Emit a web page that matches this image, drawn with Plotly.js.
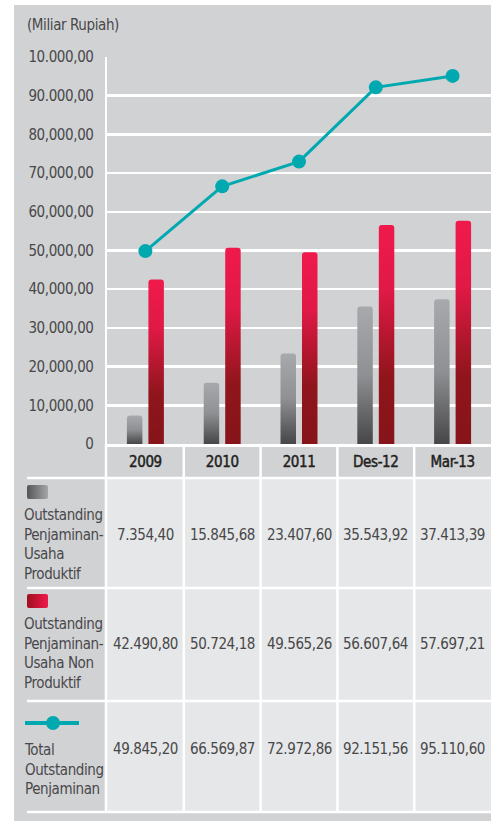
<!DOCTYPE html>
<html><head><meta charset="utf-8">
<script src="https://cdn.plot.ly/plotly-3.0.1.min.js"></script>
<style>
html,body{margin:0;padding:0;background:#fff;}
#chart{width:491px;height:821px;}
text{font-stretch:condensed;letter-spacing:-0.4px;}
.xtick text{stroke:#231f20;stroke-width:0.45px;}
</style>
</head><body><div id="chart"></div>
<script>
// ---- data ----
const categories = ['2009', '2010', '2011', 'Des-12', 'Mar-13'];
const produktif = [7354.40, 15845.68, 23407.60, 35543.92, 37413.39];
const nonProduktif = [42490.80, 50724.18, 49565.26, 56607.64, 57697.21];
const total = [49845.20, 66569.87, 72972.86, 92151.56, 95110.60];
const yTickVals = [0, 10000, 20000, 30000, 40000, 50000, 60000, 70000, 80000, 90000, 100000];
const yTickText = ['0', '10,000,00', '20,000,00', '30,000,00', '40,000,00', '50,000,00', '60,000,00', '70,000,00', '80,000,00', '90.000,00', '10.000,00'];
const seriesNames = ['Outstanding Penjaminan-Usaha Produktif', 'Outstanding Penjaminan-Usaha Non Produktif', 'Total Outstanding Penjaminan'];
const rowLabels = ['Outstanding<br>Penjaminan-<br>Usaha<br>Produktif', 'Outstanding<br>Penjaminan-<br>Usaha Non<br>Produktif', 'Total<br>Outstanding<br>Penjaminan'];
const unitLabel = '(Miliar Rupiah)';

// ---- helpers ----
const W = 491, H = 821;
const px = x => x / W;
const py = y => 1 - y / H;
const FONT = '"DejaVu Sans Condensed", "DejaVu Sans", sans-serif';
const TXT = '#48484a';
const TEAL = '#00a9b0';
const xIdx = categories.map((c, i) => i);
function fmt(v) {
  const parts = v.toFixed(2).split('.');
  return parts[0].replace(/\B(?=(\d{3})+(?!\d))/g, '.') + ',' + parts[1];
}
function swatch(c1, c2) {
  const s = '<svg xmlns="http://www.w3.org/2000/svg" width="22" height="14"><defs><linearGradient id="g" x1="0" y1="0" x2="1" y2="0"><stop offset="0" stop-color="' + c1 + '"/><stop offset="1" stop-color="' + c2 + '"/></linearGradient></defs><rect width="22" height="14" rx="2" fill="url(#g)"/></svg>';
  return 'data:image/svg+xml;charset=utf-8,' + encodeURIComponent(s);
}

const data = [
  { type: 'bar', name: seriesNames[0], x: xIdx, y: produktif, marker: { color: '#8d8e91', cornerradius: 3 } },
  { type: 'bar', name: seriesNames[1], x: xIdx, y: nonProduktif, marker: { color: '#c0173a', cornerradius: 3 } },
  { type: 'scatter', mode: 'lines+markers', name: seriesNames[2], x: xIdx, y: total,
    line: { color: TEAL, width: 3 }, marker: { color: TEAL, size: 14 } }
];

const shapes = [
  { type: 'rect', xref: 'paper', yref: 'paper', x0: px(14), x1: 1, y0: 0, y1: py(5), fillcolor: '#d1d2d4', line: { width: 0 }, layer: 'below' },
  { type: 'rect', xref: 'paper', yref: 'paper', x0: px(107), x1: 1, y0: py(812), y1: py(478), fillcolor: '#e6e7e8', line: { width: 0 }, layer: 'below' }
];
[478, 588, 701, 812].forEach(y => shapes.push({ type: 'line', xref: 'paper', yref: 'paper', x0: px(27), x1: 1, y0: py(y), y1: py(y), line: { color: '#ffffff', width: 2.5 }, layer: 'below' }));
[0.5, 1.5, 2.5, 3.5].forEach(x => shapes.push({ type: 'line', xref: 'x', yref: 'paper', x0: x, x1: x, y0: py(447), y1: py(812), line: { color: '#ffffff', width: 2.5 }, layer: 'below' }));
shapes.push({ type: 'line', xref: 'paper', yref: 'paper', x0: px(106), x1: px(106), y0: py(444), y1: py(812), line: { color: '#ffffff', width: 2.5 }, layer: 'below' });
// line legend swatch
shapes.push({ type: 'line', xref: 'paper', yref: 'paper', x0: px(25), x1: px(79), y0: py(723), y1: py(723), line: { color: TEAL, width: 4 }, layer: 'above' });
shapes.push({ type: 'circle', xref: 'paper', yref: 'paper', x0: px(46), x1: px(60), y0: py(730), y1: py(716), fillcolor: TEAL, line: { width: 0 }, layer: 'above' });

const annotations = [
  { text: unitLabel, xref: 'paper', yref: 'paper', x: px(25), y: py(25), xanchor: 'left', yanchor: 'middle', showarrow: false, font: { family: FONT, size: 15, color: TXT } }
];
const rowSeries = [produktif, nonProduktif, total];
const rowValueY = [535, 644, 749];
const rowLabelY = [544, 653, 769];
rowSeries.forEach((s, r) => {
  s.forEach((v, i) => annotations.push({ text: fmt(v), xref: 'x', yref: 'paper', x: xIdx[i], y: py(rowValueY[r]), xanchor: 'center', yanchor: 'middle', showarrow: false, font: { family: FONT, size: 15, color: TXT } }));
  annotations.push({ text: rowLabels[r], xref: 'paper', yref: 'paper', x: px(22), y: py(rowLabelY[r]), xanchor: 'left', yanchor: 'middle', align: 'left', showarrow: false, font: { family: FONT, size: 15, color: TXT } });
});

const images = [
  { source: swatch('#555557', '#a5a6a9'), xref: 'paper', yref: 'paper', x: px(27), y: py(485), sizex: 21 / W, sizey: 14 / H, xanchor: 'left', yanchor: 'top', sizing: 'stretch', layer: 'above' },
  { source: swatch('#a00f1f', '#ef1a4b'), xref: 'paper', yref: 'paper', x: px(27), y: py(594), sizex: 21 / W, sizey: 14 / H, xanchor: 'left', yanchor: 'top', sizing: 'stretch', layer: 'above' }
];

const layout = {
  width: W, height: H,
  margin: { l: 0, r: 0, t: 0, b: 0 },
  paper_bgcolor: '#ffffff', plot_bgcolor: 'rgba(0,0,0,0)',
  showlegend: false,
  barmode: 'group', bargap: 0.44, bargroupgap: 0.28,
  font: { family: FONT, color: TXT },
  xaxis: {
    type: 'linear', domain: [px(107), 1], range: [-0.5, 4.5],
    tickmode: 'array', tickvals: xIdx, ticktext: categories,
    showgrid: false, zeroline: false,
    showline: true, linecolor: '#ffffff', linewidth: 3,
    ticks: '', ticklabelstandoff: 2,
    tickfont: { family: FONT, size: 15, color: '#231f20' }, automargin: false
  },
  yaxis: {
    domain: [py(444), py(57)], range: [0, 100000],
    tickmode: 'array', tickvals: yTickVals, ticktext: yTickText,
    showgrid: true, gridcolor: '#ffffff', gridwidth: 2.5, zeroline: false,
    showline: true, linecolor: '#ffffff', linewidth: 2.5,
    ticks: '', ticklabelstandoff: 8,
    tickfont: { family: FONT, size: 15, color: TXT }, automargin: false
  },
  shapes: shapes, annotations: annotations, images: images
};

const gd = document.getElementById('chart');
Plotly.newPlot(gd, data, layout, { staticPlot: true, displayModeBar: false }).then(() => {
  const NS = 'http://www.w3.org/2000/svg';
  const svg = gd.querySelector('svg.main-svg');
  let defs = svg.querySelector('defs');
  if (!defs) { defs = document.createElementNS(NS, 'defs'); svg.insertBefore(defs, svg.firstChild); }
  function addGrad(id, stops) {
    const g = document.createElementNS(NS, 'linearGradient');
    g.setAttribute('id', id);
    g.setAttribute('x1', '0'); g.setAttribute('y1', '0'); g.setAttribute('x2', '0'); g.setAttribute('y2', '1');
    stops.forEach(([o, c]) => { const s = document.createElementNS(NS, 'stop'); s.setAttribute('offset', o); s.setAttribute('stop-color', c); g.appendChild(s); });
    defs.appendChild(g);
  }
  addGrad('gGray', [[0, '#a8a9ac'], [0.5, '#8f9093'], [1, '#464648']]);
  addGrad('gRed', [[0, '#ef1a4b'], [0.3, '#e01946'], [0.7, '#8f151b'], [1, '#86141a']]);
  const traces = gd.querySelectorAll('.barlayer .trace');
  if (traces[0]) traces[0].querySelectorAll('path').forEach(p => { p.style.fill = 'url(#gGray)'; });
  if (traces[1]) traces[1].querySelectorAll('path').forEach(p => { p.style.fill = 'url(#gRed)'; });
});
</script>
</body></html>
